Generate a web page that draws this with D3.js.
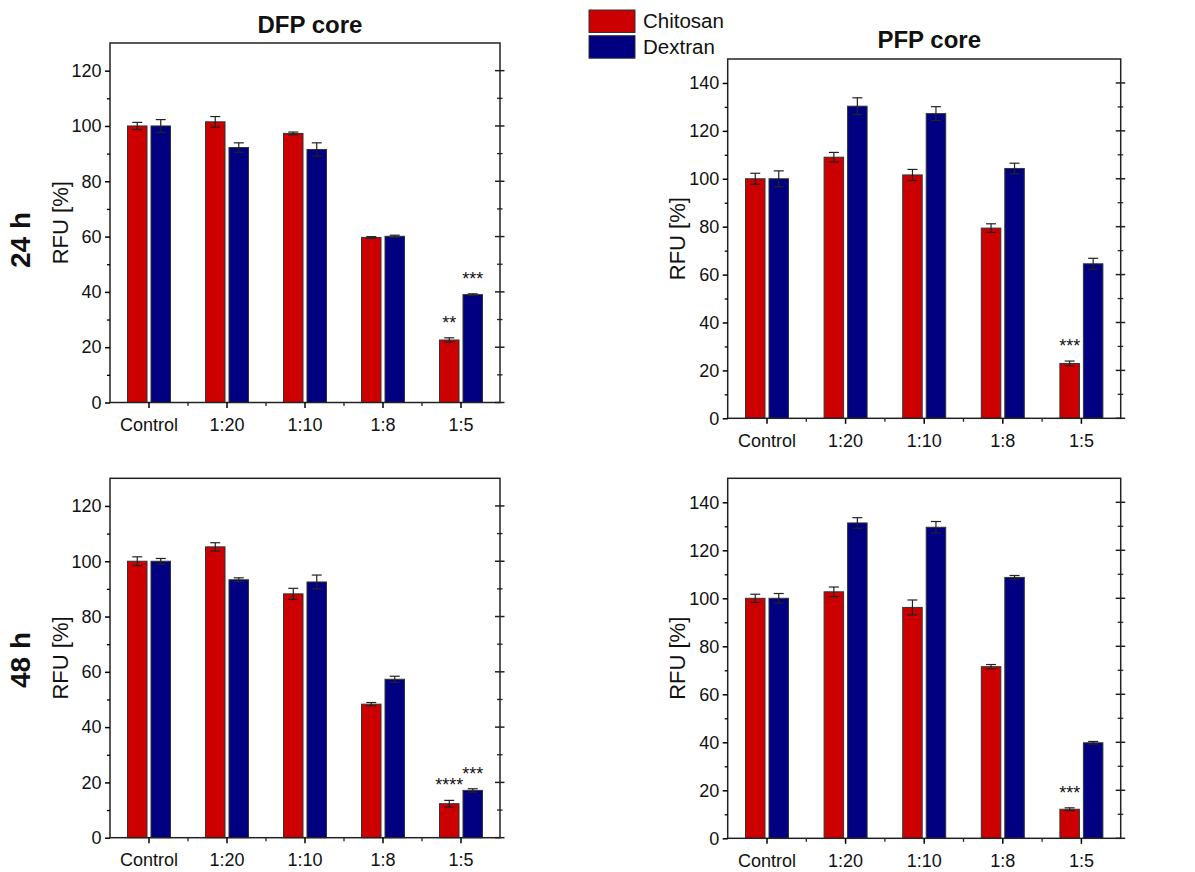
<!DOCTYPE html>
<html>
<head>
<meta charset="utf-8">
<script src="https://cdn.jsdelivr.net/npm/d3@7"></script>
<style>
  body { margin: 0; background: #fff; }
  text { font-family: Arial, "Liberation Sans", sans-serif; fill: #111; }
</style>
</head>
<body>
<svg id="chart" width="1195" height="872"></svg>
<script>
// Categories (polymer : core ratio)
const categories = ["Control", "1:20", "1:10", "1:8", "1:5"];
const seriesNames = ["Chitosan", "Dextran"];
const seriesColors = ["#cc0000", "#000080"];

// DFP core, 24 h
const dfp24Chitosan = [100, 101.5, 97.3, 59.7, 22.6];
const dfp24ChitosanErr = [1.3, 1.9, 0.5, 0.3, 0.8];
const dfp24Dextran = [100, 92.2, 91.5, 60.1, 39.0];
const dfp24DextranErr = [2.3, 1.7, 2.4, 0.4, 0.3];

// PFP core, 24 h
const pfp24Chitosan = [100, 109.0, 101.6, 79.4, 22.9];
const pfp24ChitosanErr = [2.3, 2.0, 2.3, 1.8, 1.0];
const pfp24Dextran = [100, 130.3, 127.2, 104.3, 64.5];
const pfp24DextranErr = [3.3, 3.5, 2.9, 2.2, 2.3];

// DFP core, 48 h
const dfp48Chitosan = [100, 105.2, 88.2, 48.3, 12.3];
const dfp48ChitosanErr = [1.6, 1.5, 2.0, 0.6, 1.2];
const dfp48Dextran = [100, 93.3, 92.5, 57.3, 17.1];
const dfp48DextranErr = [1.0, 0.7, 2.5, 1.1, 0.6];

// PFP core, 48 h
const pfp48Chitosan = [100, 102.7, 96.2, 71.5, 12.1];
const pfp48ChitosanErr = [1.7, 2.0, 3.1, 0.9, 0.6];
const pfp48Dextran = [100, 131.4, 129.6, 108.7, 39.8];
const pfp48DextranErr = [2.0, 2.2, 2.4, 0.8, 0.55];

// significance marks: [category, series index, text]
const dfp24Stars = [["1:5", 0, "**"], ["1:5", 1, "***"]];
const pfp24Stars = [["1:5", 0, "***"]];
const dfp48Stars = [["1:5", 0, "****"], ["1:5", 1, "***"]];
const pfp48Stars = [["1:5", 0, "***"]];

const yMaxDFP = 130, yMaxPFP = 150;

const svg = d3.select("#chart");

const panels = [
    { left: 110, top: 43, right: 500, bottom: 402.5, yMax: yMaxDFP, title: "DFP core", titleY: 33,
      values: [dfp24Chitosan, dfp24Dextran], errs: [dfp24ChitosanErr, dfp24DextranErr], stars: dfp24Stars },
    { left: 727.7, top: 59, right: 1120.7, bottom: 418.3, yMax: yMaxPFP, title: "PFP core", titleY: 48,
      values: [pfp24Chitosan, pfp24Dextran], errs: [pfp24ChitosanErr, pfp24DextranErr], stars: pfp24Stars },
    { left: 110, top: 478.3, right: 500, bottom: 837.7, yMax: yMaxDFP,
      values: [dfp48Chitosan, dfp48Dextran], errs: [dfp48ChitosanErr, dfp48DextranErr], stars: dfp48Stars },
    { left: 727.7, top: 478.3, right: 1120.7, bottom: 838.3, yMax: yMaxPFP,
      values: [pfp48Chitosan, pfp48Dextran], errs: [pfp48ChitosanErr, pfp48DextranErr], stars: pfp48Stars }
];

panels.forEach(p => drawPanel(p));

function drawPanel(p) {
    const w = p.right - p.left, h = p.bottom - p.top;
    const g = svg.append("g").attr("transform", `translate(${p.left},${p.top})`);

    const x = d3.scaleBand().domain(categories).range([0, w]);
    const y = d3.scaleLinear().domain([0, p.yMax]).range([h, 0]);
    const barW = 19.5, gap = 2;
    const barX = (c, s) => x(c) + x.bandwidth() / 2 + (s === 0 ? -gap - barW : gap);

    // bars
    p.values.forEach((vals, s) => {
        g.selectAll(".bar" + s)
            .data(categories.map((c, i) => ({ c, v: vals[i], e: p.errs[s][i] })))
            .enter().append("rect")
            .attr("x", d => barX(d.c, s))
            .attr("y", d => y(d.v))
            .attr("width", barW)
            .attr("height", d => h - y(d.v))
            .attr("fill", seriesColors[s])
            .attr("stroke", "#333")
            .attr("stroke-width", 1);

        // error bars
        const eb = g.selectAll(".err" + s)
            .data(categories.map((c, i) => ({ c, v: vals[i], e: p.errs[s][i] })))
            .enter().append("g")
            .attr("stroke", "#222")
            .attr("stroke-width", 1.2);
        eb.append("line")
            .attr("x1", d => barX(d.c, s) + barW / 2)
            .attr("x2", d => barX(d.c, s) + barW / 2)
            .attr("y1", d => y(d.v - d.e))
            .attr("y2", d => y(d.v + d.e));
        [-1, 1].forEach(sign => {
            eb.append("line")
                .attr("x1", d => barX(d.c, s) + barW / 2 - 5)
                .attr("x2", d => barX(d.c, s) + barW / 2 + 5)
                .attr("y1", d => y(d.v + sign * d.e))
                .attr("y2", d => y(d.v + sign * d.e));
        });
    });

    // significance stars
    p.stars.forEach(([c, s, txt]) => {
        const i = categories.indexOf(c);
        const top = p.values[s][i] + p.errs[s][i];
        g.append("text")
            .attr("x", barX(c, s) + barW / 2)
            .attr("y", y(top) - 9)
            .attr("text-anchor", "middle")
            .style("font-size", "18px")
            .text(txt);
    });

    // frame
    g.append("rect")
        .attr("width", w).attr("height", h)
        .attr("fill", "none")
        .attr("stroke", "#222")
        .attr("stroke-width", 1.5);

    // left axis, major + minor
    const majors = d3.range(0, p.yMax, 20);
    const minors = d3.range(10, p.yMax, 20);
    const yAxis = g.append("g")
        .call(d3.axisLeft(y).tickValues(majors).tickSize(5).tickPadding(3.5));
    yAxis.select(".domain").remove();
    yAxis.selectAll("text").style("font-size", "18px");
    yAxis.selectAll("line").attr("stroke-width", 1.5);
    const yMinor = g.append("g")
        .call(d3.axisLeft(y).tickValues(minors).tickSize(3).tickFormat(""));
    yMinor.select(".domain").remove();
    yMinor.selectAll("line").attr("stroke-width", 1.3);

    // right axis ticks crossing the frame
    g.selectAll(".rmaj").data(majors).enter().append("line")
        .attr("x1", w - 5).attr("x2", w + 4.5)
        .attr("y1", d => y(d)).attr("y2", d => y(d))
        .attr("stroke", "#222").attr("stroke-width", 1.5);
    g.selectAll(".rmin").data(minors).enter().append("line")
        .attr("x1", w - 3).attr("x2", w + 2.5)
        .attr("y1", d => y(d)).attr("y2", d => y(d))
        .attr("stroke", "#222").attr("stroke-width", 1.3);

    // bottom axis
    const xAxis = g.append("g")
        .attr("transform", `translate(0,${h})`)
        .call(d3.axisBottom(x).tickSize(5.5).tickPadding(10));
    xAxis.select(".domain").remove();
    xAxis.selectAll("text").style("font-size", "18px");
    xAxis.selectAll("line").attr("stroke-width", 1.5);
    g.selectAll(".xmin").data(categories.slice(1)).enter().append("line")
        .attr("x1", d => x(d)).attr("x2", d => x(d))
        .attr("y1", h).attr("y2", h + 3.5)
        .attr("stroke", "#222").attr("stroke-width", 1.3);

    // y label
    g.append("text")
        .attr("transform", `translate(-50,${h / 2}) rotate(-90)`)
        .attr("text-anchor", "middle")
        .attr("dominant-baseline", "central")
        .style("font-size", "22px")
        .text("RFU [%]");

    if (p.title) {
        svg.append("text")
            .attr("x", p.left + w / 2 + 5)
            .attr("y", p.titleY)
            .attr("text-anchor", "middle")
            .style("font-size", "24px")
            .style("font-weight", "bold")
            .text(p.title);
    }
}

// row labels
[["24 h", 240], ["48 h", 660]].forEach(([t, cy]) => {
    svg.append("text")
        .attr("transform", `translate(20,${cy}) rotate(-90)`)
        .attr("text-anchor", "middle")
        .attr("dominant-baseline", "central")
        .style("font-size", "28px")
        .style("font-weight", "bold")
        .text(t);
});

// legend
const legend = svg.append("g").attr("transform", "translate(589,10)");
seriesNames.forEach((name, i) => {
    legend.append("rect")
        .attr("x", 0).attr("y", i * 25.7)
        .attr("width", 46).attr("height", 22.5)
        .attr("fill", seriesColors[i])
        .attr("stroke", "#333").attr("stroke-width", 1);
    legend.append("text")
        .attr("x", 54).attr("y", i * 26 + 18)
        .style("font-size", "20.5px")
        .text(name);
});
</script>
</body>
</html>
